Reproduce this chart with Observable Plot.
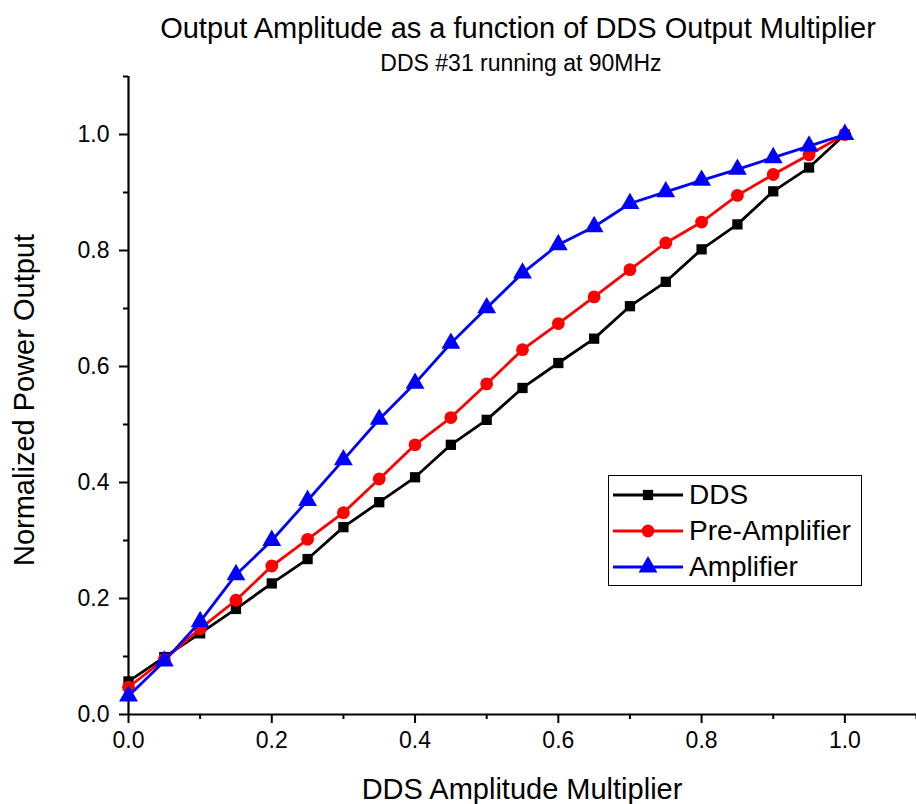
<!DOCTYPE html>
<html>
<head>
<meta charset="utf-8">
<script src="https://cdn.jsdelivr.net/npm/d3@7"></script>
<script src="https://cdn.jsdelivr.net/npm/@observablehq/plot@0.6"></script>
<style>
  html, body { margin: 0; padding: 0; background: #fff; }
  #wrap { position: relative; width: 916px; height: 804px; font-family: "Liberation Sans", Arial, sans-serif; color: #000; }
  #chart { position: absolute; left: 0; top: 0; }
  .lbl { position: absolute; white-space: nowrap; line-height: 1; transform: translate(-50%, -50%); }
  #legend { position: absolute; left: 608px; top: 475px; width: 252px; height: 109px; border: 1px solid #000; background: #fff; }
  #legend .row { position: absolute; left: 0; height: 34px; display: flex; align-items: center; }
  #legend .row span { font-size: 28px; margin-left: 2px; }
</style>
</head>
<body>
<div id="wrap">
  <div id="chart"></div>
  <div class="lbl" style="left:518px; top:28px; font-size:29px;">Output Amplitude as a function of DDS Output Multiplier</div>
  <div class="lbl" style="left:521px; top:63px; font-size:23px;">DDS #31 running at 90MHz</div>
  <div class="lbl" style="left:522px; top:789px; font-size:29px;">DDS Amplitude Multiplier</div>
  <div class="lbl" style="left:24px; top:400px; font-size:29px; transform: translate(-50%, -50%) rotate(-90deg);">Normalized Power Output</div>
  <div id="legend"></div>
</div>
<script>
const multiplier = [0, 0.05, 0.1, 0.15, 0.2, 0.25, 0.3, 0.35, 0.4, 0.45, 0.5, 0.55, 0.6, 0.65, 0.7, 0.75, 0.8, 0.85, 0.9, 0.95, 1.0];
const dds = [0.057, 0.099, 0.140, 0.182, 0.226, 0.268, 0.323, 0.366, 0.409, 0.465, 0.508, 0.563, 0.606, 0.648, 0.704, 0.746, 0.802, 0.845, 0.902, 0.943, 1.0];
const preAmplifier = [0.047, 0.095, 0.148, 0.197, 0.256, 0.302, 0.348, 0.406, 0.465, 0.512, 0.570, 0.629, 0.674, 0.720, 0.767, 0.813, 0.849, 0.895, 0.931, 0.965, 1.0];
const amplifier = [0.032, 0.092, 0.160, 0.241, 0.300, 0.369, 0.439, 0.509, 0.571, 0.640, 0.701, 0.761, 0.810, 0.841, 0.881, 0.901, 0.921, 0.940, 0.960, 0.980, 1.0];
const seriesNames = ["DDS", "Pre-Amplifier", "Amplifier"];
const seriesColors = ["#000000", "#ff0000", "#0000ff"];
const seriesSymbols = ["square", "circle", "triangle"];
const seriesRadius = [5.8, 6.4, 7];
const majorTicks = [0, 0.2, 0.4, 0.6, 0.8, 1.0];
const minorTicks = [0.1, 0.3, 0.5, 0.7, 0.9, 1.1];

const seriesValues = [dds, preAmplifier, amplifier];
const series = seriesNames.map((name, i) => ({
  name, color: seriesColors[i], symbol: seriesSymbols[i], r: seriesRadius[i],
  data: multiplier.map((x, j) => ({x, y: seriesValues[i][j]}))
}));

const marks = [];
// minor ticks
marks.push(Plot.axisX(minorTicks, {tickSize: 5, strokeWidth: 2, tickFormat: () => "", label: null}));
marks.push(Plot.axisY(minorTicks, {tickSize: 5, strokeWidth: 2, tickFormat: () => "", label: null}));
// major ticks
marks.push(Plot.axisX(majorTicks, {tickSize: 9, strokeWidth: 2, tickPadding: 8, tickFormat: d3.format(".1f"), label: null, fontSize: 23}));
marks.push(Plot.axisY(majorTicks, {tickSize: 9, strokeWidth: 2, tickPadding: 10, tickFormat: d3.format(".1f"), label: null, fontSize: 23}));
// axis lines
marks.push(Plot.ruleY([0], {strokeWidth: 2.2}));
marks.push(Plot.ruleX([0], {strokeWidth: 2.2}));
for (const s of series) {
  marks.push(Plot.line(s.data, {x: "x", y: "y", stroke: s.color, strokeWidth: 2.8}));
  marks.push(Plot.dot(s.data, {x: "x", y: "y", fill: s.color, stroke: "none", symbol: s.symbol, r: s.r}));
}

const chart = Plot.plot({
  width: 916,
  height: 804,
  marginLeft: 128,
  marginRight: 0,
  marginTop: 76,
  marginBottom: 90,
  style: {fontFamily: "Liberation Sans, Arial, sans-serif", fontSize: "23px", color: "#000", background: "#fff", overflow: "visible"},
  x: {domain: [0, 1.1], axis: null},
  y: {domain: [0, 1.1], axis: null},
  marks
});
document.getElementById("chart").appendChild(chart);

// legend
const legend = document.getElementById("legend");
const rowTops = [2, 38, 74];
series.forEach((s, i) => {
  const row = document.createElement("div");
  row.className = "row";
  row.style.top = rowTops[i] + "px";
  const sym = d3.symbol(s.symbol === "square" ? d3.symbolSquare : s.symbol === "circle" ? d3.symbolCircle : d3.symbolTriangle, Math.PI * s.r * s.r)();
  row.innerHTML = `<svg width="78" height="34" style="display:block"><line x1="4" x2="74" y1="17" y2="17" stroke="${s.color}" stroke-width="3"/><path d="${sym}" transform="translate(39,17)" fill="${s.color}"/></svg><span>${s.name}</span>`;
  legend.appendChild(row);
});
</script>
</body>
</html>
